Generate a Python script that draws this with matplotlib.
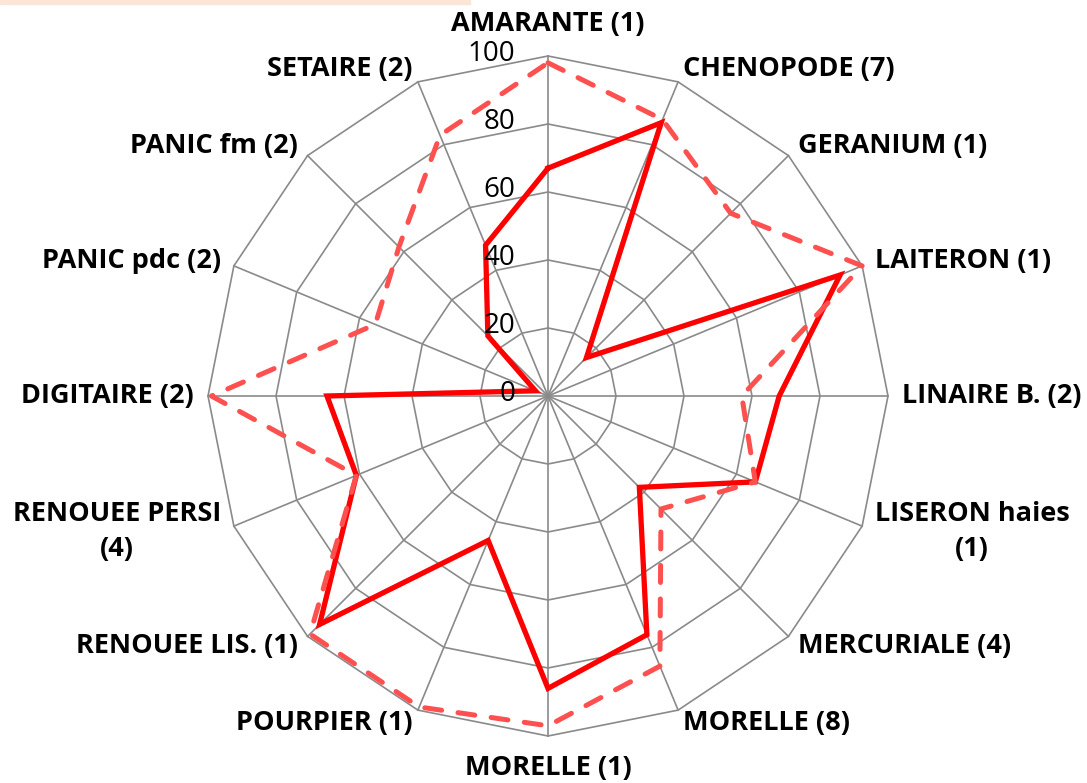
import numpy as np
import matplotlib.pyplot as plt
from matplotlib.patches import Rectangle

# categories, clockwise from the top
categories = ["AMARANTE (1)", "CHENOPODE (7)", "GERANIUM (1)", "LAITERON (1)",
              "LINAIRE B. (2)", "LISERON haies\n(1)", "MERCURIALE (4)", "MORELLE (8)",
              "MORELLE (1)", "POURPIER (1)", "RENOUEE LIS. (1)", "RENOUEE PERSI\n(4)",
              "DIGITAIRE (2)", "PANIC pdc (2)", "PANIC fm (2)", "SETAIRE (2)"]
serie_pleine = [67, 87, 16, 93, 68, 66, 38, 76, 86, 46, 95, 61, 65, 4, 25, 48]
serie_tirets = [98, 88, 76, 100, 57, 66, 47, 86, 97, 99, 99, 61, 99, 55, 62, 83]
graduations = [0, 20, 40, 60, 80, 100]

n = len(categories)
theta = np.arange(n) * 2 * np.pi / n


def to_xy(values):
    r = np.array(list(values) + [values[0]], dtype=float)
    t = np.append(theta, theta[0])
    return r * np.sin(t), r * np.cos(t)


fig = plt.figure(figsize=(10.87, 7.83), dpi=100)
ax = fig.add_axes([0, 0, 1, 1])
scale = 3.4  # pixels per unit
ax.set_xlim(-548 / scale, (1087 - 548) / scale)
ax.set_ylim(-(783 - 396) / scale, 396 / scale)
ax.set_aspect("equal")
ax.axis("off")

# peach strip at top left
fig.patches.append(Rectangle((0, 1 - 4 / 783), 470 / 1087, 4 / 783,
                             transform=fig.transFigure, color="#fbe5d6", zorder=0))

grid_col = "#8a8a8a"
# polygon rings
for g in graduations[1:]:
    gx, gy = to_xy([g] * n)
    ax.plot(gx, gy, color=grid_col, lw=1.2, zorder=1)
# spokes
for t in theta:
    ax.plot([0, 100 * np.sin(t)], [0, 100 * np.cos(t)], color=grid_col, lw=1.2, zorder=1)

# series
sx, sy = to_xy(serie_pleine)
ax.plot(sx, sy, color="#ff0000", lw=3.8, solid_joinstyle="miter", zorder=3)
dx, dy = to_xy(serie_tirets)
ax.plot(dx, dy, color="#ff5050", lw=3.6, linestyle=(0, (3.4, 3.3)),
        dash_capstyle="round", zorder=4)

# radial tick labels
for g in graduations:
    ax.text(-9.7, g + 0.5, str(g), ha="right", va="center",
            fontsize=20, family="Open Sans", color="#000000", zorder=5)

# category labels
for lab, t in zip(categories, theta):
    s, c = np.sin(t), np.cos(t)
    if abs(s) < 1e-6:
        x, y, ha = 0, 109.5 * np.sign(c), "center"
    else:
        x, y = 104 * s, 104 * c
        ha = "left" if s > 0 else "right"
        if abs(c) < 1e-6:
            x = 104.2 * np.sign(s)
    ax.text(x, y, lab, ha=ha, va="center", multialignment="center",
            fontsize=19.5, fontweight="bold", family="Open Sans",
            linespacing=1.45, zorder=5)

fig.savefig("out.png", dpi=100)
